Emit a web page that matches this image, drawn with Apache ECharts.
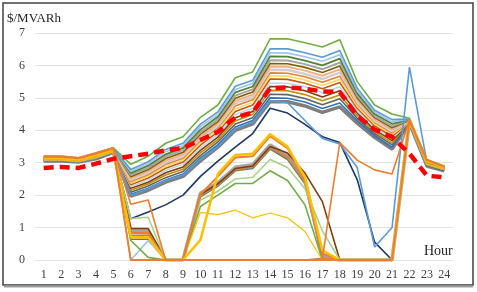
<!DOCTYPE html>
<html><head><meta charset="utf-8">
<script src="https://cdn.jsdelivr.net/npm/echarts@6/dist/echarts.min.js"></script>
<style>html,body{margin:0;padding:0;background:#fff}#c{width:477px;height:292px}</style>
</head><body><div id="c"></div>
<script>
const hours = ['1','2','3','4','5','6','7','8','9','10','11','12','13','14','15','16','17','18','19','20','21','22','23','24'];
const yTicks = [0,1,2,3,4,5,6,7];
// upper bundle
const u100 = [3.20,3.20,3.15,3.30,3.46,2.95,3.20,3.60,3.80,4.40,4.78,5.62,5.80,6.82,6.82,6.70,6.57,6.79,5.50,4.78,4.50,4.37,3.10,2.90];
const u84 = [3.18,3.18,3.13,3.27,3.44,2.79,3.03,3.41,3.60,4.19,4.57,5.36,5.54,6.51,6.51,6.39,6.25,6.46,5.30,4.62,4.33,4.35,3.07,2.88];
const u78 = [3.17,3.17,3.12,3.26,3.43,2.73,2.97,3.34,3.53,4.11,4.49,5.26,5.45,6.39,6.38,6.27,6.13,6.33,5.22,4.56,4.26,4.34,3.06,2.87];
const u72 = [3.16,3.16,3.11,3.25,3.42,2.68,2.91,3.26,3.46,4.02,4.42,5.17,5.35,6.28,6.27,6.15,6.00,6.21,5.14,4.50,4.20,4.33,3.05,2.86];
const u66 = [3.15,3.15,3.11,3.24,3.41,2.62,2.84,3.19,3.39,3.94,4.34,5.07,5.26,6.16,6.15,6.04,5.88,6.09,5.06,4.44,4.13,4.32,3.03,2.85];
const u61 = [3.14,3.14,3.10,3.23,3.41,2.57,2.79,3.13,3.32,3.88,4.27,4.99,5.18,6.06,6.05,5.94,5.78,5.98,5.00,4.39,4.08,4.31,3.02,2.84];
const u56 = [3.13,3.13,3.09,3.22,3.40,2.52,2.74,3.07,3.26,3.81,4.21,4.91,5.10,5.97,5.96,5.84,5.68,5.88,4.94,4.34,4.02,4.30,3.01,2.83];
const u51 = [3.13,3.13,3.09,3.21,3.39,2.47,2.69,3.01,3.20,3.74,4.14,4.83,5.02,5.87,5.86,5.74,5.58,5.78,4.87,4.29,3.97,4.29,3.00,2.82];
const u46 = [3.12,3.12,3.08,3.20,3.38,2.42,2.63,2.95,3.14,3.68,4.08,4.75,4.94,5.77,5.76,5.65,5.48,5.67,4.81,4.24,3.92,4.29,2.99,2.82];
const u41 = [3.11,3.11,3.07,3.19,3.38,2.37,2.58,2.89,3.08,3.61,4.01,4.66,4.86,5.68,5.67,5.55,5.38,5.57,4.74,4.19,3.86,4.28,2.98,2.81];
const u36 = [3.10,3.10,3.07,3.18,3.37,2.32,2.53,2.83,3.02,3.54,3.95,4.58,4.78,5.58,5.57,5.45,5.28,5.47,4.68,4.14,3.81,4.27,2.97,2.80];
const u30 = [3.10,3.10,3.06,3.17,3.36,2.26,2.47,2.76,2.95,3.46,3.87,4.49,4.68,5.46,5.45,5.34,5.16,5.34,4.60,4.08,3.74,4.26,2.96,2.79];
const u24 = [3.09,3.09,3.05,3.16,3.35,2.21,2.40,2.69,2.87,3.38,3.79,4.39,4.58,5.35,5.34,5.22,5.03,5.22,4.53,4.02,3.68,4.25,2.95,2.79];
const u18 = [3.08,3.08,3.04,3.15,3.35,2.15,2.34,2.62,2.80,3.30,3.71,4.29,4.49,5.23,5.22,5.10,4.91,5.09,4.45,3.96,3.61,4.24,2.94,2.78];
const u12 = [3.07,3.07,3.04,3.14,3.34,2.09,2.28,2.54,2.73,3.22,3.64,4.19,4.39,5.11,5.10,4.98,4.79,4.97,4.37,3.90,3.55,4.23,2.93,2.77];
const u06 = [3.06,3.06,3.03,3.13,3.33,2.03,2.21,2.47,2.65,3.14,3.56,4.10,4.30,5.00,4.99,4.87,4.67,4.84,4.30,3.84,3.48,4.23,2.92,2.76];
const u00 = [3.05,3.05,3.02,3.12,3.32,1.97,2.15,2.40,2.58,3.06,3.48,4.00,4.20,4.88,4.88,4.75,4.55,4.72,4.22,3.78,3.42,4.22,2.90,2.75];
// special lines
const navy = [3.08,3.08,3.05,3.15,3.36,1.27,1.48,1.70,2.00,2.58,3.05,3.48,3.90,4.68,4.53,4.18,3.80,3.62,2.48,0.55,0.00,4.30,3.00,2.84];
const blueSpike = [3.10,3.10,3.07,3.18,3.38,2.00,2.20,2.45,2.62,3.10,3.50,4.05,4.25,4.92,4.85,4.30,3.75,3.58,2.85,0.40,1.00,5.95,3.02,2.80];
const orangeA = [3.18,3.18,3.13,3.28,3.44,1.72,1.85,0,0,0,0,0,0,0,0,0,0.05,3.62,3.08,2.78,2.65,4.32,3.08,2.88];
// lower (daytime) lines
const brownL = [3.12,3.12,3.08,3.20,3.38,0.97,0.97,0,0,2.02,2.35,2.82,2.90,3.50,3.30,2.68,1.80,0,0,0,0,4.30,3.00,2.84];
const grayL = [3.10,3.10,3.06,3.17,3.36,0.90,0.90,0,0,2.06,2.38,2.86,2.94,3.55,3.22,2.48,0.10,0,0,0,0,4.28,2.98,2.82];
const orangeL = [3.15,3.15,3.10,3.22,3.40,0.82,0.80,0,0,2.00,2.33,2.80,2.88,3.48,3.18,2.45,0.05,0,0,0,0,4.30,3.00,2.85];
const blueL = [3.08,3.08,3.04,3.15,3.35,0.76,0.75,0,0,1.98,2.30,2.78,2.85,3.45,3.14,2.40,0.12,0,0,0,0,4.26,2.96,2.80];
const oliveL = [3.10,3.10,3.05,3.16,3.36,0.64,0.64,0,0,1.95,2.28,2.75,2.82,3.42,3.10,2.35,0.05,0,0,0,0,4.25,2.95,2.80];
const lgreenL = [3.10,3.10,3.06,3.17,3.36,1.28,1.32,0,0,1.85,2.12,2.50,2.55,3.10,2.85,2.20,0.90,0,0,0,0,4.27,2.97,2.82];
const greenL = [3.11,3.11,3.07,3.18,3.37,0.60,0.08,0,0,1.65,2.00,2.36,2.36,2.75,2.45,1.70,0,0,0,0,0,4.27,2.97,2.82];
const lgoldL = [3.09,3.09,3.05,3.16,3.35,0,0,0,0,1.47,1.40,1.54,1.30,1.45,1.30,0.88,0,0,0,0,0,4.25,2.95,2.80];
const lblueL = [3.12,3.12,3.08,3.19,3.38,0,0.60,0,0,2.00,2.33,2.80,2.90,3.50,3.20,2.45,0.15,0,0,0,0,4.28,2.98,2.83];
const orange2L = [3.13,3.13,3.09,3.21,3.39,0.85,0.84,0,0,2.02,2.58,3.16,3.20,3.82,3.45,2.50,0.20,0,0,0,0,4.30,3.02,2.85];
const goldL = [3.14,3.14,3.10,3.22,3.40,0.70,0.70,0,0,0.62,2.66,3.24,3.28,3.88,3.50,2.55,0.30,0,0,0,0,4.32,3.05,2.86];
const orangeZero = [3.20,3.20,3.15,3.30,3.46,0,0,0,0,0,0,0,0,0,0,0,0,0,0,0,0,4.30,3.08,2.88];
const average = [2.84,2.87,2.84,2.97,3.12,3.20,3.28,3.38,3.45,3.70,3.95,4.40,4.55,5.30,5.32,5.28,5.20,5.18,4.45,4.02,3.80,3.28,2.60,2.55];

const defs = [
  [u00,'#7F7F7F',3.5],[u06,'#2E75B6',1.6],[u12,'#636363',1.6],[u18,'#BF9000',1.6],[u24,'#843C0C',1.6],
  [u30,'#BDD7EE',1.6],[u36,'#C55A11',1.6],[u41,'#FFD966',1.6],[u46,'#ED7D31',1.6],[u51,'#D0CECE',2.5],
  [u56,'#F4B183',2],[u61,'#7F6000',1.6],[u66,'#A5A5A5',2],[u72,'#548235',1.8],[u78,'#9DC3E6',1.6],
  [u84,'#5B9BD5',1.6],[u100,'#70AD47',1.6],
  [navy,'#1F3864',1.6],[blueSpike,'#5B9BD5',1.6],
  [oliveL,'#997300',1.6],[blueL,'#5B9BD5',1.6],[lblueL,'#9DC3E6',1.6],[grayL,'#A5A5A5',3.5],[orangeL,'#ED7D31',1.6],
  [brownL,'#843C0C',1.6],[lgreenL,'#A9D18E',1.6],[greenL,'#70AD47',1.6],[lgoldL,'#FFC000',1.2],
  [orange2L,'#ED7D31',2],[goldL,'#FFC000',2.5],[orangeA,'#ED7D31',1.6],[orangeZero,'#ED7D31',1.8]
];
const series = defs.map(d => ({
  type:'line', data:d[0], symbol:'none', silent:true,
  lineStyle:{color:d[1], width:d[2]}, z:2
}));
series.push({type:'line', data:average, symbol:'none', z:5,
  lineStyle:{color:'#FF0000', width:4.5, type:[10,6]}});

const chart = echarts.init(document.getElementById('c'), null, {renderer:'canvas'});
const fnt = 'Liberation Serif';
chart.setOption({
  animation:false,
  backgroundColor:'#fff',
  grid:{left:35, right:24, top:33, bottom:32, containLabel:false},
  xAxis:{type:'category', data:hours, boundaryGap:true,
    axisLine:{show:false}, axisTick:{show:false},
    axisLabel:{color:'#404040', fontFamily:fnt, fontSize:12, margin:9}},
  yAxis:{type:'value', min:yTicks[0], max:yTicks[yTicks.length-1], interval:1,
    axisLine:{show:false}, axisTick:{show:false},
    splitLine:{lineStyle:{color:'#E3E3E3', width:1}},
    axisLabel:{color:'#404040', fontFamily:fnt, fontSize:12, margin:10}},
  graphic:[
    {type:'rect', shape:{x:3, y:3, width:470, height:282}, style:{fill:'none', stroke:'#404040', lineWidth:1.5}, silent:true},
    {type:'line', shape:{x1:4, y1:286.5, x2:473, y2:286.5}, style:{stroke:'#A0A0A0', lineWidth:2}, silent:true},
    {type:'text', left:7, top:12, style:{text:'$/MVARh', font:'13px "Liberation Serif"', fill:'#262626'}},
    {type:'text', left:424, top:244, style:{text:'Hour', font:'14px "Liberation Serif"', fill:'#262626'}}
  ],
  series:series
});
</script></body></html>
